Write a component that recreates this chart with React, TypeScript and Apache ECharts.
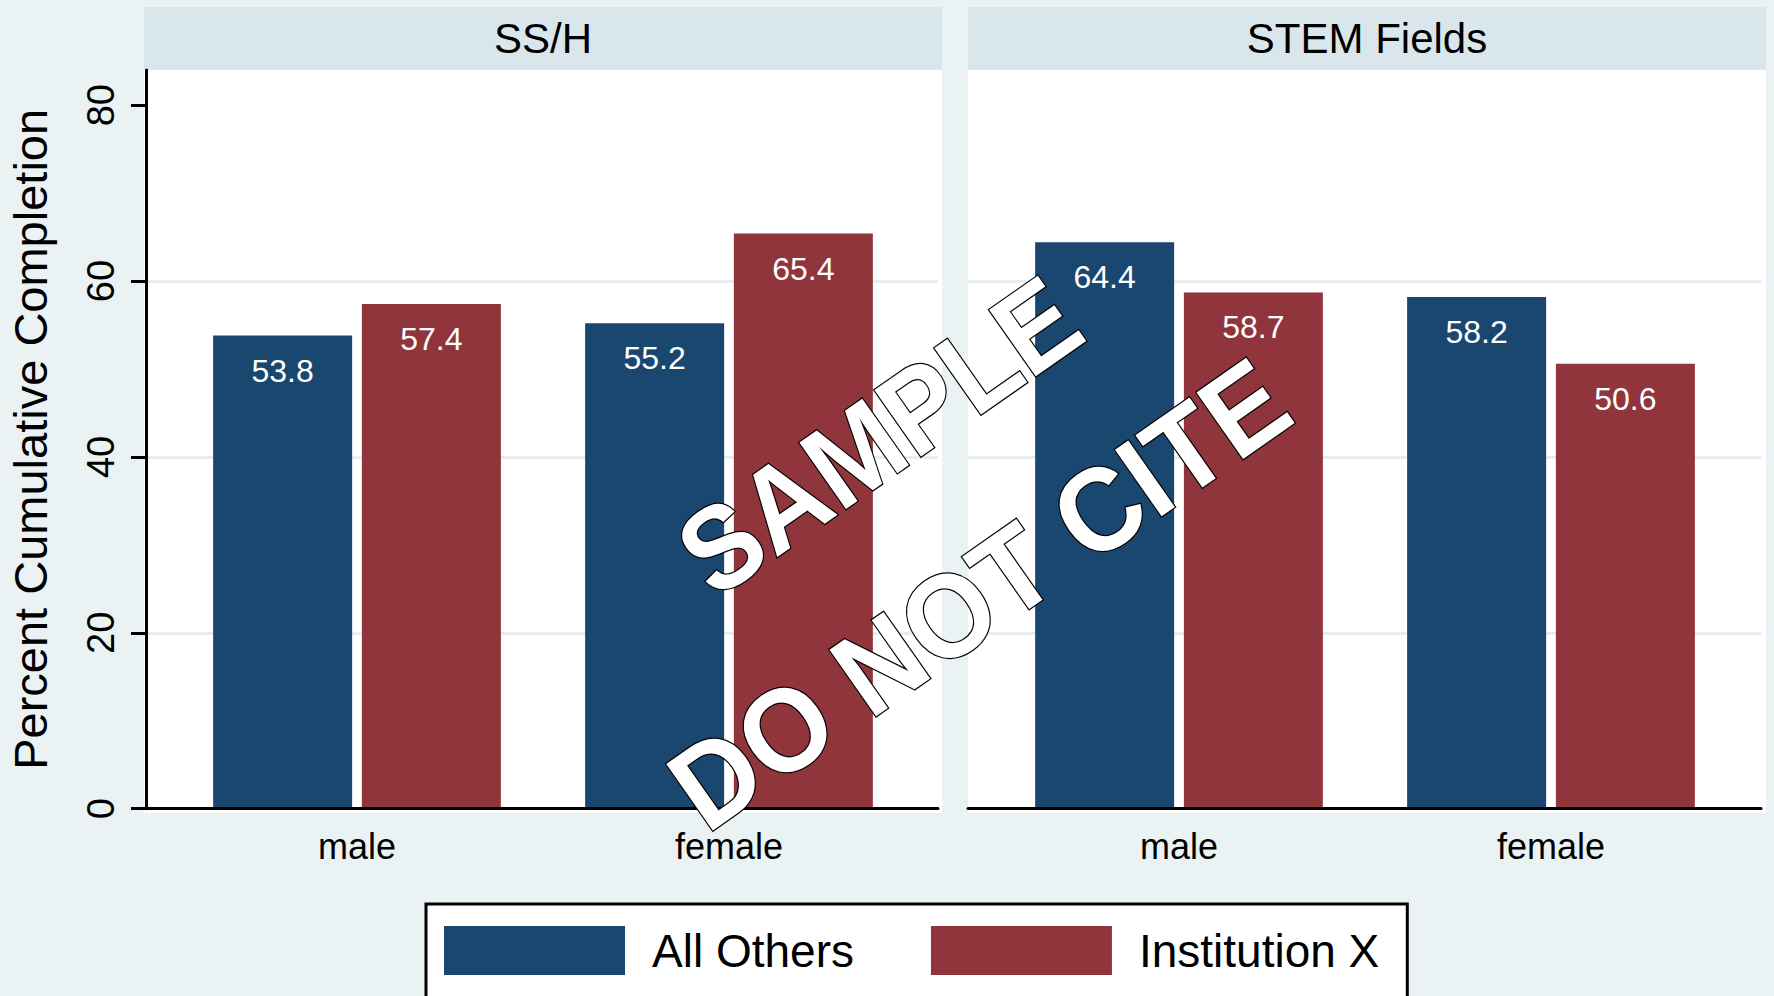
import React, { useEffect, useRef } from "react";
import * as echarts from "echarts";

// ---- data ----
const panelTitles = ["SS/H", "STEM Fields"];
const categories = ["male", "female"];
const seriesNames = ["All Others", "Institution X"];
const sshAllOthers = [53.8, 55.2];
const sshInstitutionX = [57.4, 65.4];
const stemAllOthers = [64.4, 58.2];
const stemInstitutionX = [58.7, 50.6];
const yTickValues = [0, 20, 40, 60, 80];
const yGridValues = [20, 40, 60];
const yMin = 0;
const yMax = 84;
const yTitle = "Percent Cumulative Completion";
const watermarkLines = ["SAMPLE", "DO NOT CITE"];

// ---- style ----
const FONT = "'Liberation Sans', Arial, Helvetica, sans-serif";
const BG = "#eaf2f3";
const STRIP = "#d9e6eb";
const NAVY = "#1a476f";
const MAROON = "#90353b";
const GRID_LINE = "#e6eef0";

const PLOT_TOP = 70;
const PLOT_H = 738.7;

export default function App() {
  const ref = useRef<HTMLDivElement>(null);

  useEffect(() => {
    if (!ref.current) return;
    const chart = echarts.init(ref.current, undefined, { renderer: "svg" });

    const barLabel = {
      show: true,
      position: "insideTop",
      distance: 19,
      color: "#fff",
      fontSize: 32,
      fontFamily: FONT,
      formatter: (p: any) => Number(p.value).toFixed(1),
    };

    const valueX = (gridIndex: number) => ({
      gridIndex,
      type: "value",
      min: 0,
      max: 1,
      z: 3,
      axisLine: { show: true, onZero: false, lineStyle: { color: "#000", width: 3 } },
      axisTick: { show: false },
      axisLabel: { show: false },
      splitLine: { show: false },
    });

    const catX = (gridIndex: number) => ({
      gridIndex,
      type: "category",
      data: categories,
      axisLine: { show: false },
      axisTick: { show: false },
      axisLabel: { color: "#000", fontSize: 36, margin: 20, fontFamily: FONT },
      splitLine: { show: false },
    });

    const hiddenY = (gridIndex: number) => ({
      gridIndex,
      type: "value",
      min: yMin,
      max: yMax,
      show: false,
      splitLine: { show: false },
    });

    const gridLineSeries = (idx: number) => ({
      type: "line",
      xAxisIndex: idx,
      yAxisIndex: idx,
      data: [],
      z: 1,
      silent: true,
      markLine: {
        z: 1,
        silent: true,
        symbol: ["none", "none"],
        label: { show: false },
        lineStyle: { color: GRID_LINE, width: 3, type: "solid" },
        data: yGridValues.map((v) => ({ yAxis: v })),
      },
    });

    const bar = (name: string, data: number[], color: string, idx: number) => ({
      name,
      type: "bar",
      xAxisIndex: idx,
      yAxisIndex: idx,
      data,
      barWidth: 139,
      barGap: "7%",
      z: 2,
      itemStyle: { color },
      label: barLabel,
    });

    const wmStyle = {
      fontSize: 118,
      fontWeight: "bold",
      fontFamily: FONT,
      fill: "#fff",
      stroke: "#000",
      lineWidth: 2.5,
      textAlign: "center",
      textVerticalAlign: "middle",
      align: "center",
      verticalAlign: "middle",
    };

    const option: any = {
      animation: false,
      backgroundColor: BG,
      textStyle: { fontFamily: FONT },
      grid: [
        { left: 146, width: 792, top: PLOT_TOP, height: PLOT_H },
        { left: 968, width: 793, top: PLOT_TOP, height: PLOT_H },
        { left: 171, width: 744, top: PLOT_TOP, height: PLOT_H },
        { left: 993, width: 744, top: PLOT_TOP, height: PLOT_H },
      ],
      xAxis: [valueX(0), valueX(1), catX(2), catX(3)],
      yAxis: [
        {
          gridIndex: 0,
          type: "value",
          min: yMin,
          max: yMax,
          interval: 20,
          z: 3,
          name: yTitle,
          nameLocation: "middle",
          nameGap: 92,
          nameTextStyle: { fontSize: 47, color: "#000", fontFamily: FONT },
          axisLine: { show: true, onZero: false, lineStyle: { color: "#000", width: 3 } },
          axisTick: {
            show: true,
            length: 15,
            lineStyle: { color: "#000", width: 3 },
            customValues: yTickValues,
          },
          axisLabel: {
            rotate: 90,
            fontSize: 38,
            color: "#000",
            margin: 26,
            fontFamily: FONT,
            customValues: yTickValues,
          },
          splitLine: { show: false },
        },
        hiddenY(1),
        hiddenY(2),
        hiddenY(3),
      ],
      legend: {
        data: seriesNames,
        left: 426,
        top: 904,
        orient: "horizontal",
        icon: "rect",
        itemWidth: 181,
        itemHeight: 49,
        itemGap: 77,
        padding: [22, 28, 26, 18],
        borderColor: "#000",
        borderWidth: 3,
        borderRadius: 0,
        backgroundColor: "#fff",
        selectedMode: false,
        textStyle: { fontSize: 46, color: "#000", fontFamily: FONT, padding: [0, 0, 0, 22] },
      },
      graphic: [
        { type: "rect", z: 0, shape: { x: 144, y: 70, width: 798, height: 743 }, style: { fill: "#fff" } },
        { type: "rect", z: 0, shape: { x: 968, y: 70, width: 798, height: 743 }, style: { fill: "#fff" } },
        { type: "rect", z: 0, shape: { x: 144, y: 7, width: 798, height: 63 }, style: { fill: STRIP } },
        { type: "rect", z: 0, shape: { x: 968, y: 7, width: 798, height: 63 }, style: { fill: STRIP } },
        {
          type: "text", z: 5, x: 543, y: 38,
          style: { text: panelTitles[0], fontSize: 42, fontFamily: FONT, fill: "#000", textAlign: "center", textVerticalAlign: "middle", align: "center", verticalAlign: "middle" },
        },
        {
          type: "text", z: 5, x: 1367, y: 38,
          style: { text: panelTitles[1], fontSize: 42, fontFamily: FONT, fill: "#000", textAlign: "center", textVerticalAlign: "middle", align: "center", verticalAlign: "middle" },
        },
        {
          type: "text", z: 100, x: 879, y: 436, rotation: (35 * Math.PI) / 180, scaleX: 0.93,
          style: { ...wmStyle, text: watermarkLines[0] },
        },
        {
          type: "text", z: 100, x: 979, y: 594, rotation: (35 * Math.PI) / 180, scaleX: 0.95,
          style: { ...wmStyle, text: watermarkLines[1] },
        },
      ],
      series: [
        gridLineSeries(0),
        gridLineSeries(1),
        bar(seriesNames[0], sshAllOthers, NAVY, 2),
        bar(seriesNames[1], sshInstitutionX, MAROON, 2),
        bar(seriesNames[0], stemAllOthers, NAVY, 3),
        bar(seriesNames[1], stemInstitutionX, MAROON, 3),
      ],
    };

    chart.setOption(option);
    return () => chart.dispose();
  }, []);

  return (
    <div
      ref={ref}
      style={{ position: "absolute", left: 0, top: 0, width: 1774, height: 996 }}
    />
  );
}
